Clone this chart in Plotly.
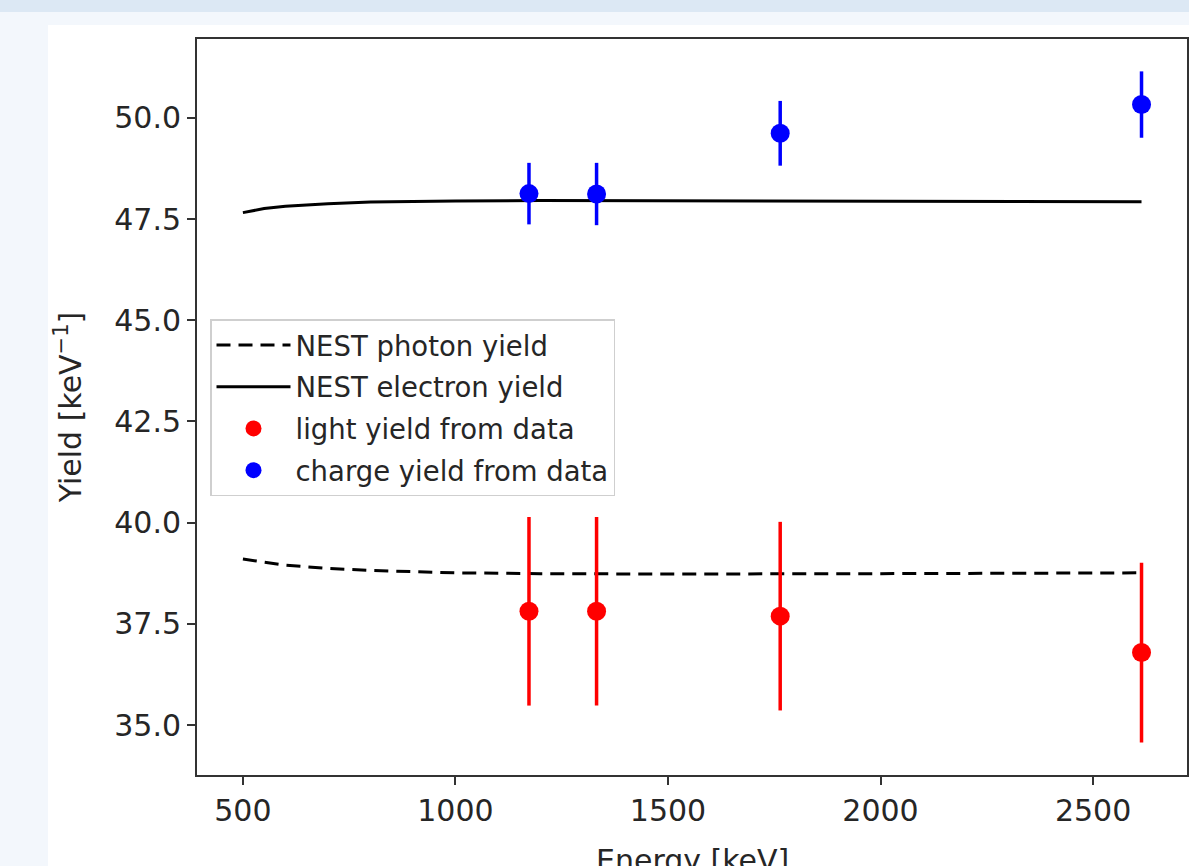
import plotly.graph_objects as go

# NEST model curves
nest_energy = [500, 550, 600, 700, 800, 900, 1000, 1200, 1500, 2000, 2614]
nest_electron = [47.66, 47.76, 47.82, 47.88, 47.92, 47.94, 47.95, 47.96, 47.95, 47.94, 47.93]
nest_photon = [39.10, 39.02, 38.95, 38.87, 38.82, 38.79, 38.76, 38.74, 38.73, 38.74, 38.76]

# Data points
data_energy = [1173, 1332, 1764, 2614]
light_yield = [37.81, 37.81, 37.69, 36.79]
light_err = [2.33, 2.33, 2.33, 2.22]
charge_yield = [48.13, 48.12, 49.62, 50.33]
charge_err = [0.76, 0.77, 0.80, 0.82]

x_ticks = [500, 1000, 1500, 2000, 2500]
y_ticks = [35, 37.5, 40, 42.5, 45, 47.5, 50]

W, H = 1189, 866
L, R, T, B = 197, 1187, 39, 775
FONT = "DejaVu Sans"
TXT = "#262626"

fig = go.Figure()
fig.add_trace(go.Scatter(x=nest_energy, y=nest_photon, mode="lines", name="NEST photon yield",
                         line=dict(color="black", width=3, dash="14px,8px"), legendgroup="g1"))
fig.add_trace(go.Scatter(x=nest_energy, y=nest_electron, mode="lines", name="NEST electron yield",
                         line=dict(color="black", width=3), legendgroup="g2"))
fig.add_trace(go.Scatter(x=data_energy, y=light_yield, mode="markers", name="light yield from data",
                         marker=dict(color="red", size=19), legendgroup="g3",
                         error_y=dict(type="data", array=light_err, color="red", thickness=3.5, width=0)))
fig.add_trace(go.Scatter(x=data_energy, y=charge_yield, mode="markers", name="charge yield from data",
                         marker=dict(color="blue", size=19), legendgroup="g4",
                         error_y=dict(type="data", array=charge_err, color="blue", thickness=3.5, width=0)))


def px(xp):
    return (xp - L) / (R - L)


def py(yp):
    return (B - yp) / (B - T)


shapes = [
    dict(type="rect", xref="paper", yref="paper", x0=px(48), x1=px(W + 5), y0=py(H + 5), y1=py(25),
         fillcolor="white", line=dict(width=0), layer="below"),
    dict(type="rect", xref="paper", yref="paper", x0=px(-5), x1=px(W + 5), y0=py(12), y1=py(-5),
         fillcolor="#dce8f4", line=dict(width=0), layer="below"),
]

axis_common = dict(showgrid=False, zeroline=False, showline=True, linecolor="#333", linewidth=2,
                   mirror=True, ticks="outside", ticklen=8, tickwidth=1.6, tickcolor="#333",
                   tickfont=dict(family=FONT, size=30, color=TXT))

fig.update_layout(
    width=W, height=H,
    margin=dict(l=L, r=W - R, t=T, b=H - B, autoexpand=False),
    paper_bgcolor="#f3f7fc", plot_bgcolor="white",
    shapes=shapes,
    xaxis=dict(range=[392, 2721], tickvals=x_ticks, ticktext=[str(v) for v in x_ticks],
               **axis_common),
    yaxis=dict(range=[33.765, 51.95], tickvals=y_ticks, ticktext=[f"{v:.1f}" for v in y_ticks],
               title=dict(text="Yield [keV<sup>\u22121</sup>]",
                          font=dict(family=FONT, size=30, color=TXT), standoff=24),
               **axis_common),
    annotations=[dict(text="Energy [keV]", xref="paper", yref="paper", x=0.5, y=py(860),
                      xanchor="center", yanchor="middle", showarrow=False,
                      font=dict(family=FONT, size=30, color=TXT))],
    legend=dict(x=px(210), y=py(319), xanchor="left", yanchor="top",
                bgcolor="rgba(255,255,255,0.85)", bordercolor="#cfcfcf", borderwidth=1.5,
                font=dict(family=FONT, size=27.5, color=TXT),
                traceorder="grouped", tracegroupgap=3, itemwidth=74),
    showlegend=True,
)

fig.write_html("out.html", config={"displayModeBar": False},
               post_script="document.body.style.margin='0';document.body.style.overflow='hidden';")
